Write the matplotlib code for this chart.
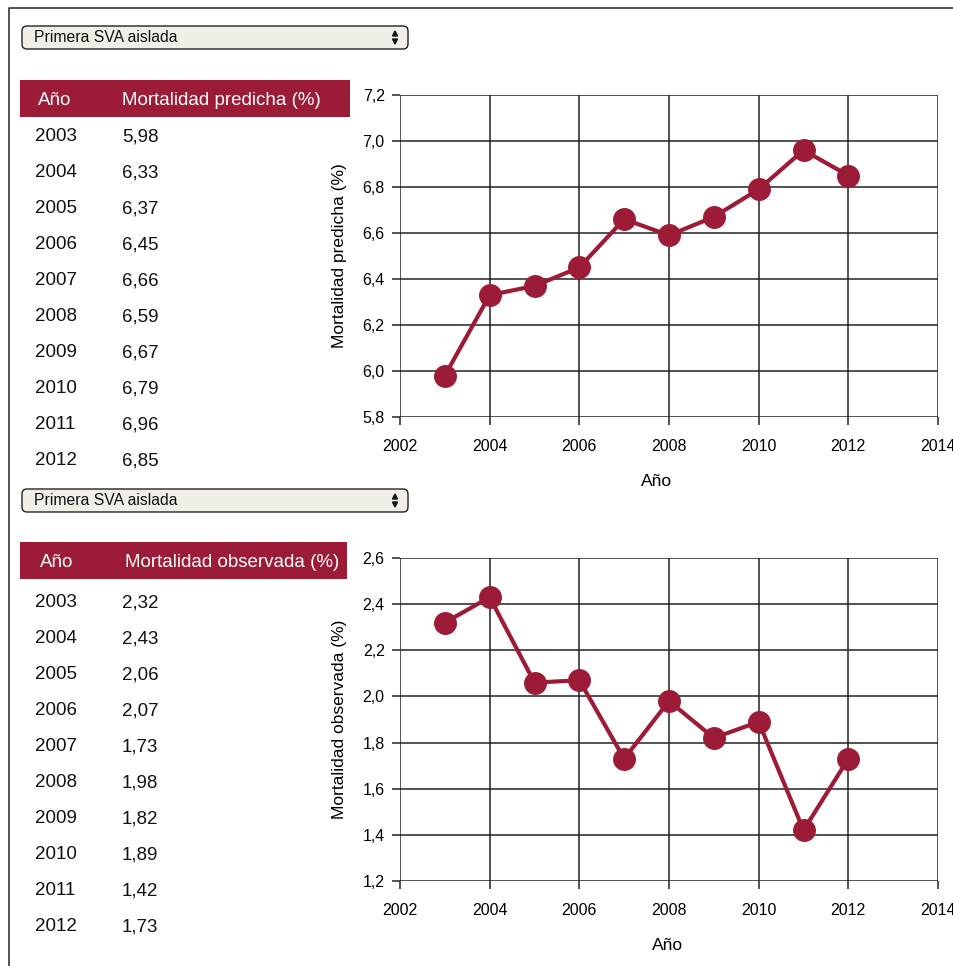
import matplotlib
matplotlib.use('Agg')
import matplotlib.pyplot as plt
from matplotlib.patches import Rectangle, FancyBboxPatch, Polygon
from matplotlib.ticker import FuncFormatter, MultipleLocator

plt.rcParams['font.family'] = ['Liberation Sans', 'DejaVu Sans']

# datos
years = [2003, 2004, 2005, 2006, 2007, 2008, 2009, 2010, 2011, 2012]
pred = [5.98, 6.33, 6.37, 6.45, 6.66, 6.59, 6.67, 6.79, 6.96, 6.85]
obs = [2.32, 2.43, 2.06, 2.07, 1.73, 1.98, 1.82, 1.89, 1.42, 1.73]
selector = 'Primera SVA aislada'
col_year = 'Año'
col_pred = 'Mortalidad predicha (%)'
col_obs = 'Mortalidad observada (%)'

W, H = 954, 966
RED = '#9c1b36'
GRID = '#222222'

fig = plt.figure(figsize=(W / 100, H / 100), dpi=100)
bg = fig.add_axes([0, 0, 1, 1])
bg.set_xlim(0, W)
bg.set_ylim(H, 0)
bg.axis('off')

# marco
bg.plot([9, 9, W], [H, 8, 8], color='#333333', lw=1.2)


def comma(v, pos):
    return f'{v:.1f}'.replace('.', ',')


def dropdown(y):
    box = FancyBboxPatch((22, y), 386, 23, boxstyle='round,pad=0,rounding_size=5',
                         fc='#f1eee8', ec='#222222', lw=1.0)
    bg.add_patch(box)
    bg.text(34, y + 16, selector, fontsize=11.3, va='baseline', ha='left', color='#111111')
    cx = 395
    bg.add_patch(Polygon([[cx - 2.5, y + 10], [cx + 2.5, y + 10], [cx, y + 5]], color='#111111'))
    bg.add_patch(Polygon([[cx - 2.5, y + 13], [cx + 2.5, y + 13], [cx, y + 18]], color='#111111'))


def table(y_head, x_right, header, values, x_hdr_year, x_hdr_val, y_first):
    bg.add_patch(Rectangle((20, y_head), x_right - 20, 37, color=RED, lw=0))
    bg.text(x_hdr_year, y_head + 25, col_year, color='white', fontsize=13.5, va='baseline')
    bg.text(x_hdr_val, y_head + 25, header, color='white', fontsize=13.5, va='baseline')
    for i, (yr, v) in enumerate(zip(years, values)):
        yy = y_first + i * 36.05
        bg.text(35, yy, str(yr), fontsize=13.5, va='baseline', color='#111111')
        bg.text(122, yy, f'{v:.2f}'.replace('.', ','), fontsize=13.5, va='baseline', color='#111111')


def chart(top, bottom, values, ylim, ylabel, xlabel_x):
    ax = fig.add_axes([400 / W, 1 - bottom / H, 538 / W, (bottom - top) / H])
    ax.plot(years, values, color=RED, lw=3, marker='o', ms=15.5, zorder=3, clip_on=False)
    ax.set_xlim(2002, 2014)
    ax.set_ylim(*ylim)
    ax.xaxis.set_major_locator(MultipleLocator(2))
    ax.yaxis.set_major_locator(MultipleLocator(0.2))
    ax.yaxis.set_major_formatter(FuncFormatter(comma))
    ax.grid(True, color=GRID, lw=1.1)
    for s in ax.spines.values():
        s.set_visible(False)
    ax.tick_params(length=6, width=1.1, color=GRID, labelsize=11.5)
    ax.tick_params(axis='x', pad=10)
    ax.tick_params(axis='y', pad=5)
    ax.set_ylabel(ylabel, fontsize=12.5, labelpad=11)
    fig.text(xlabel_x / W, 1 - (bottom + 65) / H, col_year, fontsize=12.5, ha='center', va='center')
    return ax


dropdown(26)
table(80, 350, col_pred, pred, 38, 122, 141)
chart(95, 417, pred, (5.8, 7.2), col_pred, 657)

dropdown(489)
table(542, 347, col_obs, obs, 40, 125, 607)
chart(558, 881, obs, (1.2, 2.6), col_obs, 668)

fig.savefig('out.png', dpi=100)
